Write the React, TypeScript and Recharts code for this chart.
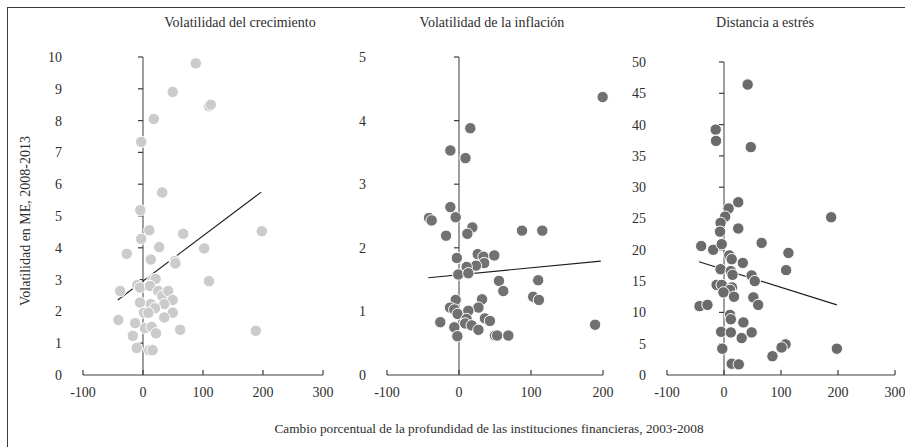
import React from "react";
import { ScatterChart, Scatter, XAxis, YAxis, ReferenceLine } from "recharts";

// Volatilidad del crecimiento
const crecimientoX = [88, 49.5, 110, 113, 18, -3, 32, -4.5, 10.5, 67, 198, -3, 27, 102, -27, 13, 53, 54, 110, 16, 21, -38, -9.5, -5, 11.7, 25.5, 32, 42, 49.5, 35.5, 13, -5, 20, 2, 9, 49.5, 35.5, -41, -13, 62, 3.3, 14.5, 21.7, -17, -10.5, 10.5, 16, 188];
const crecimientoY = [9.8, 8.9, 8.45, 8.5, 8.05, 7.33, 5.74, 5.18, 4.55, 4.44, 4.52, 4.28, 4.02, 3.98, 3.81, 3.63, 3.58, 3.51, 2.95, 3.0, 3.02, 2.64, 2.83, 2.75, 2.8, 2.64, 2.49, 2.64, 2.36, 2.23, 2.23, 2.28, 2.1, 1.96, 1.96, 1.96, 1.81, 1.73, 1.63, 1.42, 1.47, 1.51, 1.31, 1.23, 0.85, 0.78, 0.78, 1.39];
const crecimientoTrend = [{ x: -42, y: 2.36 }, { x: 197, y: 5.75 }];

// Volatilidad de la inflación
const inflacionX = [199.5, 15.7, -12, 9, -12, -41.6, -38, -4.6, 18.5, -18, 11.6, 87.5, 115.7, -3, 26, 34, 49, 35, 23.6, 10.6, -1, 13, 55.5, 61.5, 110, 103, 111, -4.6, 32, -12.5, -6.5, 27, -2, 13, 10.6, 8.6, 36, 43, -26, -6.5, 17.6, 27, -2.3, 50, 53, 68.5, 189];
const inflacionY = [4.37, 3.88, 3.53, 3.41, 2.64, 2.47, 2.43, 2.48, 2.32, 2.19, 2.22, 2.27, 2.27, 1.84, 1.9, 1.86, 1.88, 1.76, 1.72, 1.7, 1.58, 1.6, 1.48, 1.32, 1.49, 1.23, 1.18, 1.18, 1.19, 1.06, 1.03, 1.06, 0.96, 1.01, 0.88, 0.81, 0.89, 0.85, 0.83, 0.75, 0.78, 0.71, 0.61, 0.62, 0.62, 0.62, 0.79];
const inflacionTrend = [{ x: -42.6, y: 1.53 }, { x: 197, y: 1.79 }];

// Distancia a estrés
const estresX = [41.5, -14.6, -14, 47, 25, 8, 2, -6, -7, 25, 188, -40, -19, -4, 66, 113, 9.4, 13.5, 33, 109, -6, 12, 15, 48.5, 54, -13, -4, 14, 10.5, -1, 17.5, 51.5, 60, -43, -29, 10.5, 12, 34, -5, 12, 31, 48.5, 108, 101, -3, 85, 198, 13.5, 26];
const estresY = [46.4, 39.2, 37.4, 36.4, 27.6, 26.6, 25.3, 24.3, 22.9, 23.4, 25.2, 20.6, 20.0, 20.9, 21.1, 19.5, 19.1, 18.5, 17.9, 16.75, 16.9, 16.6, 16.0, 15.9, 15.0, 14.4, 14.4, 14.0, 13.6, 13.2, 12.5, 12.4, 11.2, 11.0, 11.2, 9.6, 8.9, 8.4, 6.9, 6.8, 5.9, 6.8, 4.9, 4.4, 4.2, 3.0, 4.2, 1.8, 1.7];
const estresTrend = [{ x: -43.9, y: 18.1 }, { x: 198, y: 11.2 }];

const xTicksWide = [-100, 0, 100, 200, 300];
const xTicksShort = [-100, 0, 100, 200];
const yTicksCrecimiento = [0, 1, 2, 3, 4, 5, 6, 7, 8, 9, 10];
const yTicksInflacion = [0, 1, 2, 3, 4, 5];
const yTicksEstres = [0, 5, 10, 15, 20, 25, 30, 35, 40, 45, 50];

const FONT = "'Liberation Serif', 'DejaVu Serif', serif";
const TEXT = "#2e2e2e";
const AXIS = "#3c3c3c";

const zip = (xs: number[], ys: number[]) => xs.map((x, i) => ({ x, y: ys[i] }));

const XTickLabel = (props: any) => {
  const { x, y, payload } = props;
  return (
    <text x={x} y={y} dy="0.71em" textAnchor="middle" fontSize={14} fontFamily={FONT} fill={TEXT}>
      {payload.value}
    </text>
  );
};

// tick marks: x ticks point up from the axis, y ticks point left of the x = 0 line
const XTickMark = (p: any) => <line x1={p.cx} x2={p.cx} y1={p.cy} y2={p.cy - 5} stroke={AXIS} strokeWidth={1.2} />;
const YTickMark = (p: any) => <line x1={p.cx - 5} x2={p.cx} y1={p.cy} y2={p.cy} stroke={AXIS} strokeWidth={1.2} />;

interface PanelProps {
  left: number;
  width: number;
  top: number;
  right: number;
  yAxisWidth: number;
  xMax: number;
  xTicks: number[];
  yMax: number;
  yTicks: number[];
  points: { x: number; y: number }[];
  trend: { x: number; y: number }[];
  color: string;
}

function Panel({ left, width, top, right, yAxisWidth, xMax, xTicks, yMax, yTicks, points, trend, color }: PanelProps) {
  return (
    <div style={{ position: "absolute", left, top: 0 }}>
      <ScatterChart width={width} height={447} margin={{ top, right, bottom: 42, left: 0 }}>
        <XAxis
          type="number"
          dataKey="x"
          domain={[-100, xMax]}
          ticks={xTicks}
          interval={0}
          height={30}
          tickSize={0}
          tickMargin={12}
          tickLine={false}
          axisLine={{ stroke: AXIS }}
          tick={<XTickLabel />}
        />
        <YAxis
          type="number"
          dataKey="y"
          domain={[0, yMax]}
          ticks={yTicks}
          interval={0}
          width={yAxisWidth}
          tickSize={0}
          tickMargin={21}
          tickLine={false}
          axisLine={false}
          tick={{ fontSize: 14, fontFamily: FONT, fill: TEXT }}
        />
        <ReferenceLine x={0} stroke={AXIS} strokeWidth={1} />
        <Scatter data={xTicks.map((t) => ({ x: t, y: 0 }))} isAnimationActive={false} shape={XTickMark} />
        <Scatter data={yTicks.slice(1).map((t) => ({ x: 0, y: t }))} isAnimationActive={false} shape={YTickMark} />
        <Scatter
          data={points}
          isAnimationActive={false}
          shape={(p: any) => <circle cx={p.cx} cy={p.cy} r={5.7} fill={color} stroke="#fff" strokeWidth={1} />}
        />
        <ReferenceLine segment={trend} stroke="#1e1e1e" strokeWidth={1.1} />
      </ScatterChart>
    </div>
  );
}

const titleStyle: React.CSSProperties = {
  position: "absolute",
  top: 15,
  width: 240,
  textAlign: "center",
  fontFamily: FONT,
  fontSize: 14,
  color: TEXT,
  whiteSpace: "nowrap",
};

export default function App() {
  return (
    <div style={{ position: "absolute", left: 0, top: 0, width: 905, height: 447, overflow: "hidden", background: "#fff" }}>
      <div style={{ position: "absolute", left: 7, top: 7, width: 1000, height: 1000, borderTop: `1px solid ${AXIS}`, borderLeft: `1px solid ${AXIS}` }} />
      <div style={{ ...titleStyle, left: 240 - 120 }}>Volatilidad del crecimiento</div>
      <div style={{ ...titleStyle, left: 492 - 120 }}>Volatilidad de la inflación</div>
      <div style={{ ...titleStyle, left: 765 - 120 }}>Distancia a estrés</div>
      <div
        style={{
          position: "absolute",
          left: 26 - 120,
          top: 222 - 9,
          width: 240,
          textAlign: "center",
          transform: "rotate(-90deg)",
          fontFamily: FONT,
          fontSize: 14,
          color: TEXT,
          whiteSpace: "nowrap",
        }}
      >
        Volatilidad en ME, 2008-2013
      </div>
      <div
        style={{
          position: "absolute",
          left: 489 - 300,
          top: 421,
          width: 600,
          textAlign: "center",
          fontFamily: FONT,
          fontSize: 13.3,
          color: TEXT,
          whiteSpace: "nowrap",
        }}
      >
        Cambio porcentual de la profundidad de las instituciones financieras, 2003-2008
      </div>
      <Panel left={30} width={310} top={57} right={17} yAxisWidth={53} xMax={300} xTicks={xTicksWide} yMax={10} yTicks={yTicksCrecimiento} points={zip(crecimientoX, crecimientoY)} trend={crecimientoTrend} color="#cbcbcb" />
      <Panel left={340} width={280} top={57} right={17} yAxisWidth={47} xMax={200} xTicks={xTicksShort} yMax={5} yTicks={yTicksInflacion} points={zip(inflacionX, inflacionY)} trend={inflacionTrend} color="#717171" />
      <Panel left={620} width={285} top={62} right={10} yAxisWidth={47} xMax={300} xTicks={xTicksWide} yMax={50} yTicks={yTicksEstres} points={zip(estresX, estresY)} trend={estresTrend} color="#6b6b6b" />
    </div>
  );
}
